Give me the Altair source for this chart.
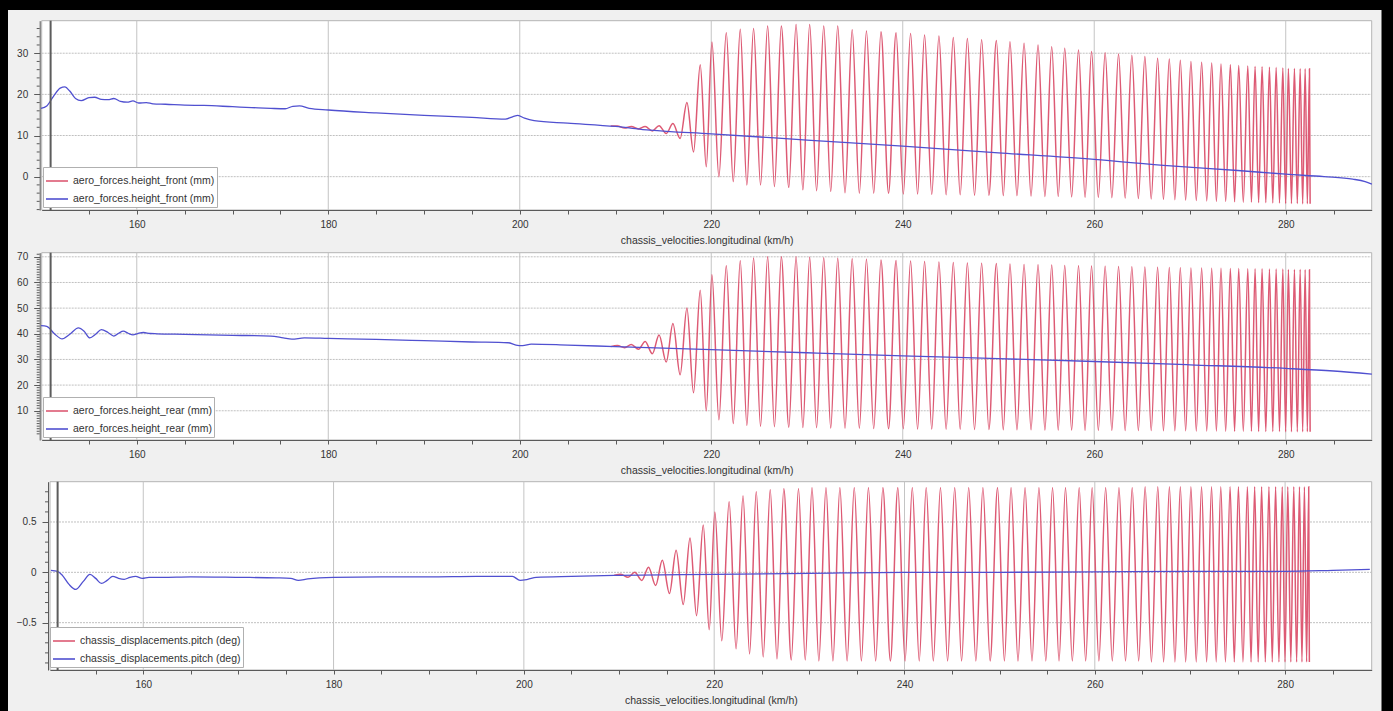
import altair as alt
import pandas as pd

W, H = 1393, 711
RED = "#dd5a74"
BLUE = "#5050d0"
FONT = "Liberation Sans"

# ---------------- data ----------------
red_start_speed = 209.5

# speeds (km/h) of the successive maxima / minima of the oscillating run
peak_speed = [210.2, 211.65, 213.1, 214.55, 216.0,
              217.46, 218.85, 220.07, 221.57, 223.03, 224.42, 225.89, 227.32, 228.86, 230.28,
              231.75, 233.21, 234.72, 236.21, 237.73, 239.30, 240.82, 242.28, 243.78, 245.28,
              246.75, 248.24, 249.78, 251.20, 252.67, 254.13, 255.56, 256.92, 258.36, 259.72,
              261.14, 262.54, 263.93, 265.29, 266.62, 267.84, 268.99, 270.10, 271.22, 272.27,
              273.24, 274.22, 275.09, 276.04, 276.80, 277.53, 278.30, 279.00, 279.70, 280.28,
              280.91, 281.51, 282.03, 282.48]
trough_speed = [210.95, 212.4, 213.85, 215.3, 216.75,
                218.15, 219.48, 220.8, 222.3, 223.72, 225.15, 226.6, 228.1, 229.57, 231.0,
                232.48, 233.97, 235.47, 236.97, 238.52, 240.06, 241.55, 243.03, 244.53, 246.0,
                247.5, 249.0, 250.5, 251.93, 253.4, 254.85, 256.24, 257.64, 259.04, 260.43,
                261.84, 263.23, 264.61, 265.95, 267.23, 268.42, 269.55, 270.66, 271.75, 272.76,
                273.73, 274.66, 275.57, 276.42, 277.17, 277.92, 278.65, 279.35, 279.99, 280.6,
                281.21, 281.77, 282.26, 282.55]

front_red_start = 12.3
front_red_peak = [12.3, 12.2, 12.2, 12.4, 12.9,
                  18.0, 27.2, 32.7, 35.0, 35.8, 36.0, 36.6, 36.6, 37.0, 37.0,
                  36.6, 36.6, 35.7, 35.4, 35.2, 35.0, 34.8, 34.4, 34.2, 33.8,
                  33.6, 33.3, 33.1, 32.8, 32.4, 32.0, 31.6, 31.2, 30.8, 30.4,
                  30.1, 29.8, 29.5, 29.2, 28.8, 28.6, 28.3, 28.0, 27.8, 27.6,
                  27.4, 27.2, 27.0, 26.9, 26.8, 26.7, 26.6, 26.5, 26.4, 26.3,
                  26.3, 26.2, 26.2, 26.2]
front_red_trough = [11.8, 11.6, 11.1, 10.5, 9.3,
                    6.0, 2.4, 0.0, -1.2, -2.0, -2.0, -2.4, -2.6, -3.2, -3.4,
                    -3.6, -3.9, -4.0, -4.0, -4.0, -4.2, -4.2, -4.3, -4.4, -4.4,
                    -4.5, -4.5, -4.6, -4.6, -4.7, -4.8, -4.8, -4.9, -5.0, -5.0,
                    -5.1, -5.2, -5.3, -5.4, -5.5, -5.6, -5.7, -5.8, -5.9, -6.0,
                    -6.0, -6.1, -6.2, -6.2, -6.3, -6.3, -6.4, -6.4, -6.5, -6.5,
                    -6.5, -6.6, -6.6, -6.6]

rear_red_start = 35.0
rear_red_peak = [35.4, 35.8, 37.0, 39.5, 44.0,
                 50.0, 57.0, 63.0, 66.5, 68.5, 69.5, 70.0, 70.0, 70.0, 69.8,
                 69.6, 69.4, 69.2, 69.0, 68.8, 68.6, 68.4, 68.2, 68.0, 67.8,
                 67.6, 67.5, 67.4, 67.2, 67.0, 66.9, 66.8, 66.6, 66.5, 66.4,
                 66.3, 66.2, 66.1, 66.0, 65.9, 65.8, 65.7, 65.6, 65.6, 65.5,
                 65.5, 65.4, 65.4, 65.3, 65.3, 65.3, 65.2, 65.2, 65.2, 65.1,
                 65.1, 65.1, 65.0, 65.0]
rear_red_trough = [34.6, 34.0, 32.2, 29.0, 24.0,
                   17.0, 10.0, 6.5, 5.0, 4.3, 4.0, 3.8, 3.6, 3.5, 3.4,
                   3.3, 3.2, 3.2, 3.1, 3.0, 3.0, 2.9, 2.9, 2.8, 2.8,
                   2.7, 2.7, 2.6, 2.6, 2.6, 2.5, 2.5, 2.5, 2.4, 2.4,
                   2.4, 2.3, 2.3, 2.3, 2.2, 2.2, 2.2, 2.1, 2.1, 2.1,
                   2.0, 2.0, 2.0, 2.0, 1.9, 1.9, 1.9, 1.9, 1.8, 1.8,
                   1.8, 1.8, 1.8, 1.8]

pitch_red_start = -0.03
pitch_red_peak = [-0.02, 0.0, 0.05, 0.12, 0.22,
                  0.34, 0.47, 0.60, 0.70, 0.76, 0.80, 0.82, 0.83, 0.83, 0.84,
                  0.84, 0.84, 0.84, 0.84, 0.84, 0.84, 0.84, 0.84, 0.84, 0.84,
                  0.84, 0.84, 0.84, 0.84, 0.84, 0.84, 0.84, 0.84, 0.84, 0.84,
                  0.84, 0.84, 0.84, 0.85, 0.85, 0.85, 0.85, 0.85, 0.85, 0.85,
                  0.85, 0.85, 0.85, 0.85, 0.85, 0.85, 0.85, 0.85, 0.85, 0.85,
                  0.85, 0.85, 0.85, 0.85]
pitch_red_trough = [-0.05, -0.08, -0.13, -0.21, -0.32,
                    -0.43, -0.57, -0.68, -0.76, -0.81, -0.84, -0.86, -0.87, -0.87, -0.88,
                    -0.88, -0.88, -0.88, -0.88, -0.88, -0.88, -0.88, -0.88, -0.88, -0.88,
                    -0.88, -0.88, -0.88, -0.88, -0.88, -0.88, -0.88, -0.88, -0.88, -0.88,
                    -0.88, -0.88, -0.88, -0.89, -0.89, -0.89, -0.89, -0.89, -0.89, -0.89,
                    -0.89, -0.89, -0.89, -0.89, -0.89, -0.89, -0.89, -0.89, -0.89, -0.89,
                    -0.89, -0.89, -0.89, -0.89]

front_blue_speed = [150.0, 150.6, 151.3, 152.0, 152.5, 153.0, 153.6, 154.2, 155.0, 155.6,
                    156.3, 157.0, 157.6, 158.3, 159.0, 159.6, 160.2, 161.0, 161.7, 163.0,
                    165.0, 167.0, 170.0, 172.0, 174.0, 175.5, 176.3, 177.0, 178.0, 180.0,
                    185.0, 190.0, 195.0, 198.5, 199.3, 199.8, 200.5, 201.5, 205.0, 210.0,
                    213.6, 220.0, 230.0, 240.0, 250.0, 260.0, 268.0, 275.0, 280.0, 284.0,
                    287.0, 288.3, 289.0]
front_blue_value = [16.6, 17.2, 19.5, 21.5, 21.8, 20.8, 19.0, 18.5, 19.2, 19.3,
                    18.8, 18.7, 19.0, 18.3, 18.1, 18.4, 17.9, 18.0, 17.7, 17.6,
                    17.4, 17.3, 17.0, 16.8, 16.6, 16.5, 17.1, 17.2, 16.6, 16.2,
                    15.5, 14.9, 14.4, 14.0, 14.6, 14.9, 14.2, 13.6, 13.0, 12.2,
                    11.3, 10.4, 8.9, 7.4, 5.8, 4.2, 2.6, 1.5, 0.6, 0.0,
                    -0.6, -1.2, -1.8]

rear_blue_speed = [150.0, 150.6, 151.4, 152.2, 153.0, 153.9, 154.5, 155.1, 155.7, 156.3,
                   157.0, 157.6, 158.1, 158.6, 159.1, 159.6, 160.1, 160.7, 161.4, 162.1,
                   165.0, 170.0, 174.0, 175.3, 176.2, 177.5, 180.0, 185.0, 190.0, 195.0,
                   198.8, 199.6, 200.3, 201.2, 205.0, 210.0, 220.0, 230.0, 240.0, 250.0,
                   260.0, 270.0, 280.0, 285.0, 289.0]
rear_blue_value = [43.2, 42.9, 40.0, 38.0, 39.8, 42.3, 41.0, 38.4, 39.8, 41.6,
                   40.5, 39.1, 40.2, 41.0, 40.2, 39.6, 40.1, 40.5, 40.1, 40.0,
                   39.8, 39.4, 39.1, 38.4, 37.9, 38.4, 38.2, 37.8, 37.3, 36.8,
                   36.5, 35.6, 35.4, 36.0, 35.6, 35.0, 33.8, 32.6, 31.4, 30.3,
                   29.2, 27.9, 26.5, 25.5, 24.3]

pitch_blue_speed = [150.3, 151.0, 151.5, 152.2, 152.9, 153.7, 154.4, 155.0, 155.6, 156.2,
                    156.8, 157.4, 158.0, 158.6, 159.2, 159.9, 160.6, 162.0, 165.0, 170.0,
                    174.0, 175.5, 176.3, 177.3, 180.0, 185.0, 190.0, 195.0, 198.8, 199.6,
                    200.4, 201.3, 205.0, 210.0, 220.0, 230.0, 240.0, 250.0, 260.0, 270.0,
                    280.0, 285.0, 288.9]
pitch_blue_value = [0.02, 0.01, -0.03, -0.12, -0.17, -0.09, -0.02, -0.06, -0.11, -0.08,
                    -0.04, -0.06, -0.07, -0.05, -0.04, -0.06, -0.05, -0.05, -0.045, -0.05,
                    -0.055, -0.06, -0.08, -0.065, -0.05, -0.045, -0.045, -0.04, -0.04, -0.08,
                    -0.07, -0.05, -0.04, -0.03, -0.02, -0.01, 0.0, 0.0, 0.005, 0.01,
                    0.01, 0.02, 0.03]

cursor_speed = 151.0
x_title = "chassis_velocities.longitudinal (km/h)"
x_tick_values = list(range(155, 290, 5))
x_grid_values = [160, 180, 200, 220, 240, 260, 280]

front_y_major = [0, 10, 20, 30]
front_y_minor = [-8, -6, -4, -2, 2, 4, 6, 8, 12, 14, 16, 18, 22, 24, 26, 28, 32, 34, 36]
rear_y_major = [10, 20, 30, 40, 50, 60, 70]
rear_y_minor = [v for v in range(1, 72) if v % 10 != 0]
pitch_y_major = [-0.5, 0, 0.5]
pitch_y_minor = [-0.9, -0.8, -0.7, -0.6, -0.4, -0.3, -0.2, -0.1,
                 0.1, 0.2, 0.3, 0.4, 0.6, 0.7, 0.8]


def red_frame(start, peaks, troughs):
    rows = [(red_start_speed, start)]
    for ps, pv, ts, tv in zip(peak_speed, peaks, trough_speed, troughs):
        rows.append((ps, pv))
        rows.append((ts, tv))
    df = pd.DataFrame(rows, columns=["speed", "value"])
    df["series"] = "red"
    return df


def blue_frame(speeds, values):
    df = pd.DataFrame({"speed": speeds, "value": values})
    df["series"] = "blue"
    return df


panels = [
    dict(label="aero_forces.height_front (mm)",
         red=red_frame(front_red_start, front_red_peak, front_red_trough),
         blue=blue_frame(front_blue_speed, front_blue_value),
         xdom=[150.07, 288.98], xrng=[41.7, 1371.7],
         ydom=[-8.1, 37.9], yrng=[210.0, 20.7],
         ymajor=front_y_major, yminor=front_y_minor, fmt="datum.label",
         legend=(43, 167)),
    dict(label="aero_forces.height_rear (mm)",
         red=red_frame(rear_red_start, rear_red_peak, rear_red_trough),
         blue=blue_frame(rear_blue_speed, rear_blue_value),
         xdom=[150.07, 288.98], xrng=[41.7, 1371.7],
         ydom=[-1.4, 71.6], yrng=[440.0, 252.7],
         ymajor=rear_y_major, yminor=rear_y_minor, fmt="datum.label",
         legend=(43, 397)),
    dict(label="chassis_displacements.pitch (deg)",
         red=red_frame(pitch_red_start, pitch_red_peak, pitch_red_trough),
         blue=blue_frame(pitch_blue_speed, pitch_blue_value),
         xdom=[150.2, 289.1], xrng=[50.0, 1371.7],
         ydom=[-0.97, 0.90], yrng=[670.0, 481.7],
         ymajor=pitch_y_major, yminor=pitch_y_minor,
         fmt="format(datum.value, '.1~f')",
         legend=(50, 627)),
]

axis_common = dict(domainColor="#5a5a5a", tickColor="#5a5a5a", labelColor="#333333",
                   labelFont=FONT, labelFontSize=10, titleFont=FONT, titleFontSize=10.5,
                   titleColor="#333333", titleFontWeight="normal", grid=False, zindex=1,
                   labelOverlap=False, labelFlush=False)


def make_panel(p):
    xs = alt.Scale(domain=p["xdom"], range=p["xrng"], nice=False, zero=False)
    ys = alt.Scale(domain=p["ydom"], range=p["yrng"], nice=False, zero=False)
    axis_x_pos = p["xrng"][0] - 2
    x_offset = -(H - p["yrng"][0])
    y_offset = -axis_x_pos

    x_axis = alt.Axis(orient="bottom", offset=x_offset, title=x_title,
                      values=x_tick_values, tickSize=4, labelPadding=5,
                      titlePadding=6,
                      labelExpr="datum.value % 20 === 0 ? datum.label : ''",
                      **axis_common)
    y_axis = alt.Axis(orient="left", offset=y_offset, title="",
                      values=p["ymajor"], tickSize=6, labelPadding=6,
                      labelExpr=p["fmt"], **axis_common)

    # first layer carries the axis definitions (explicit values win on merge)
    frame_df = pd.DataFrame({"x0": [p["xdom"][0]], "x1": [p["xdom"][1]],
                             "y0": [p["ydom"][0]], "y1": [p["ydom"][1]]})
    frame = alt.Chart(frame_df).mark_rect(fill="white", stroke="#b4b4b4", strokeWidth=1).encode(
        x=alt.X("x0:Q", scale=xs, axis=x_axis), x2="x1",
        y=alt.Y("y0:Q", scale=ys, axis=y_axis), y2="y1")

    minor_df = pd.DataFrame({"m": p["yminor"]})
    minor = alt.Chart(minor_df).mark_rule(color="#5a5a5a", strokeWidth=1).encode(
        y=alt.Y("m:Q", scale=ys),
        x=alt.value(axis_x_pos - 3), x2=alt.value(axis_x_pos))

    vg_df = pd.DataFrame({"g": x_grid_values, "lo": p["ydom"][0], "hi": p["ydom"][1]})
    vgrid = alt.Chart(vg_df).mark_rule(color="#c4c4c4", strokeWidth=1).encode(
        x=alt.X("g:Q", scale=xs),
        y=alt.Y("lo:Q", scale=ys), y2="hi")

    hg_df = pd.DataFrame({"g": p["ymajor"], "lo": p["xdom"][0], "hi": p["xdom"][1]})
    hgrid = alt.Chart(hg_df).mark_rule(color="#c0c0c0", strokeWidth=1, strokeDash=[2, 1]).encode(
        y=alt.Y("g:Q", scale=ys),
        x=alt.X("lo:Q", scale=xs), x2="hi")

    color = alt.Color("series:N",
                      scale=alt.Scale(domain=["red", "blue"], range=[RED, BLUE]),
                      legend=alt.Legend(title=None, orient="none",
                                        legendX=p["legend"][0], legendY=p["legend"][1],
                                        fillColor="white", strokeColor="#b0b0b0",
                                        padding=2, rowPadding=-1, symbolType="stroke",
                                        symbolSize=484, symbolStrokeWidth=1.6,
                                        labelOffset=4, labelFont=FONT, labelFontSize=10.5,
                                        labelColor="#333333", labelLimit=400,
                                        labelExpr="'" + p["label"] + "'"))

    red = alt.Chart(p["red"]).mark_line(interpolate="monotone", strokeWidth=1.5).encode(
        x=alt.X("speed:Q", scale=xs),
        y=alt.Y("value:Q", scale=ys),
        color=color)

    blue = alt.Chart(p["blue"]).mark_line(interpolate="monotone", strokeWidth=1.3).encode(
        x=alt.X("speed:Q", scale=xs),
        y=alt.Y("value:Q", scale=ys),
        color=color)

    cur_df = pd.DataFrame({"c": [cursor_speed], "lo": [p["ydom"][0]], "hi": [p["ydom"][1]]})
    cursor = alt.Chart(cur_df).mark_rule(color="#5c5c5c", strokeWidth=2).encode(
        x=alt.X("c:Q", scale=xs),
        y=alt.Y("lo:Q", scale=ys), y2="hi")

    return alt.layer(frame, minor, vgrid, hgrid, red, blue, cursor)


bg = alt.Chart(alt.Data(values=[{"a": 1}])).mark_rect(color="#f0f0f0").encode(
    x=alt.value(8), x2=alt.value(1381.5), y=alt.value(10), y2=alt.value(H))

chart = alt.layer(bg, *[make_panel(p) for p in panels]).resolve_scale(
    x="independent", y="independent", color="independent"
).properties(
    width=W, height=H, background="black", padding=0,
    autosize=alt.AutoSizeParams(type="none")
).configure_view(strokeWidth=0)

chart.save("out.html", embed_options={"renderer": "svg", "actions": False})
